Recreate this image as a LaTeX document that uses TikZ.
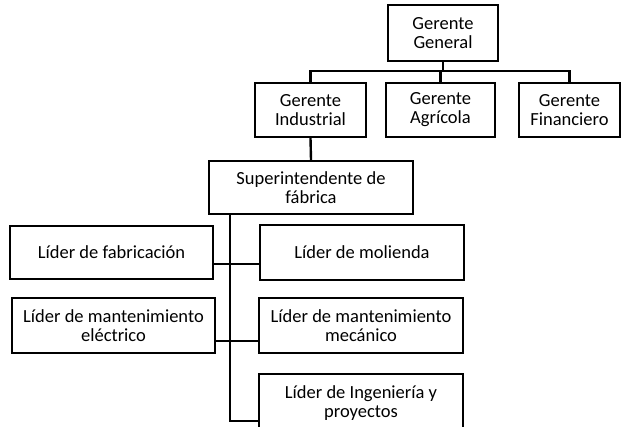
\documentclass[tikz,border=0pt]{standalone}
\usepackage{fontspec}
\setmainfont{Carlito}
\begin{document}
\begin{tikzpicture}[x=1pt, y=-1pt, line width=2.4pt,
  cargo/.style={draw, align=center, inner sep=0pt, font=\fontsize{18.5}{19}\selectfont},
  ancho/.style={cargo, minimum width=204pt, minimum height=54pt}]

\useasboundingbox (0,0) rectangle (621,427);
\clip (0,0) rectangle (621,427);

\node[cargo, minimum width=110pt, minimum height=56pt] (gg) at (443,33) {Gerente\\General};
\node[cargo, minimum width=111pt, minimum height=54pt] (gi) at (310.5,110) {Gerente\\Industrial};
\node[cargo, minimum width=109pt, minimum height=54pt] (ga) at (440.5,110) {Gerente\\Agrícola};
\node[cargo, minimum width=101pt, minimum height=54pt] (gf) at (569.5,110) {Gerente\\Financiero};

\node[ancho, minimum height=53pt] (sup) at (311,187.5) {Superintendente de\\fábrica};

\node[ancho, minimum width=203pt, minimum height=53pt] (fab) at (111.5,252.5) {Líder de fabricación};
\node[ancho, minimum height=55pt] (mol) at (362,252.5) {Líder de molienda};
\node[ancho, minimum width=203pt, minimum height=55pt] (ele) at (113.5,325.5) {Líder de mantenimiento\\eléctrico};
\node[ancho, minimum height=55pt] (mec) at (361,325.5) {Líder de mantenimiento\\mecánico};
\node[ancho, minimum height=58pt] (ing) at (361,403) {Líder de Ingeniería y\\proyectos};

\coordinate (bus) at (443,71);
\coordinate (t0) at (230,214);
\coordinate (j1) at (230,264);
\coordinate (j2) at (230,341);
\coordinate (t3) at (230,421);

\draw (gg.south) -- (bus);
\draw (bus) -| (gi.north);
\draw (bus) -| (gf.north);
\draw (bus) -| (ga.north);
\draw (gi.south) -- (sup.north);

\draw (t0) |- (ing.west |- t3);
\draw (fab.east |- j1) -- (mol.west |- j1);
\draw (ele.east |- j2) -- (mec.west |- j2);

\end{tikzpicture}
\end{document}
